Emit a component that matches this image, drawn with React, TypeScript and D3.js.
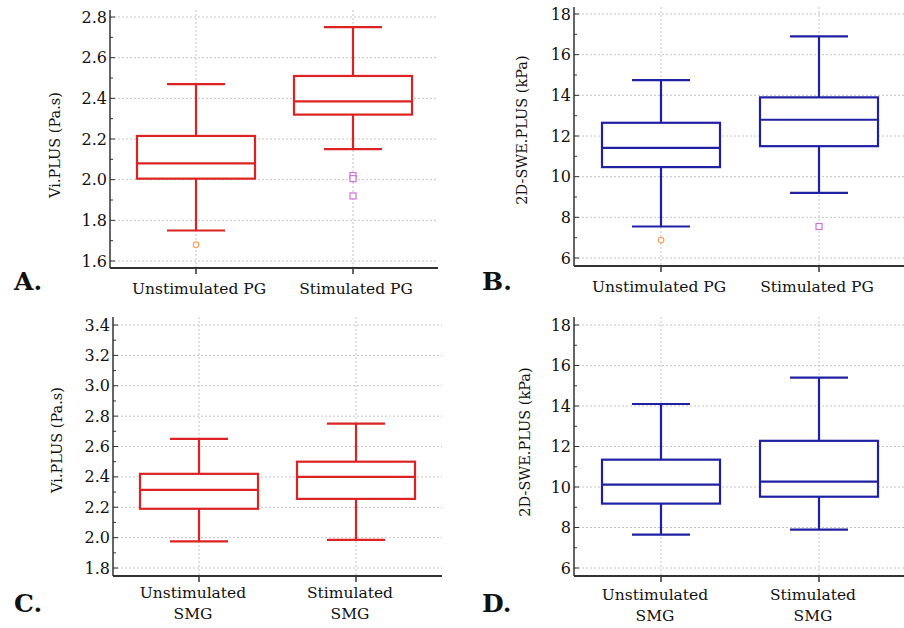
import React from "react";
import * as d3 from "d3";

// ---------- data ----------
const pgCategories = ["Unstimulated PG", "Stimulated PG"];
const smgCategories = ["Unstimulated\nSMG", "Stimulated\nSMG"];

// [lower whisker, Q1, median, Q3, upper whisker]
const viPGUnstim = [1.75, 2.005, 2.08, 2.215, 2.47];
const viPGStim = [2.15, 2.32, 2.385, 2.51, 2.75];
const swePGUnstim = [7.55, 10.47, 11.42, 12.65, 14.75];
const swePGStim = [9.2, 11.5, 12.8, 13.9, 16.9];
const viSMGUnstim = [1.975, 2.19, 2.315, 2.42, 2.65];
const viSMGStim = [1.985, 2.255, 2.4, 2.5, 2.75];
const sweSMGUnstim = [7.65, 9.18, 10.12, 11.35, 14.1];
const sweSMGStim = [7.9, 9.52, 10.27, 12.28, 15.4];

// outliers
const viPGUnstimOut = [1.68];
const viPGStimOut = [2.02, 2.005, 1.92];
const swePGUnstimOut = [6.88];
const swePGStimOut = [7.55];

const viPGTicks = [1.6, 1.8, 2.0, 2.2, 2.4, 2.6, 2.8];
const sweTicks = [6, 8, 10, 12, 14, 16, 18];
const viSMGTicks = [1.8, 2.0, 2.2, 2.4, 2.6, 2.8, 3.0, 3.2, 3.4];

// ---------- styles ----------
const RED = "#dc2222";
const BLUE = "#2020a4";
const GRID = "#c4c4c4";
const AXIS = "#333";
const FONT = "'DejaVu Serif', serif";

type PanelProps = {
  letter: string;
  letterX: number;
  letterY: number;
  axisX: number;
  right: number;
  axisTop: number;
  axisBottom: number;
  tickTopY: number;
  tickBottomY: number;
  ticks: number[];
  decimals: number;
  cats: string[];
  catRange: [number, number];
  boxes: number[][];
  outliers: number[][];
  color: string;
  yLabel: string;
  yLabelX: number;
  yLabelY: number;
  catBaseline: number;
  catShift: number;
};

function Panel(p: PanelProps) {
  const y = d3
    .scaleLinear()
    .domain([p.ticks[0], p.ticks[p.ticks.length - 1]])
    .range([p.tickBottomY, p.tickTopY]);
  const x = d3.scalePoint<string>().domain(p.cats).range(p.catRange).padding(0.5);
  const boxW = 118;
  const capW = 58;
  const minor: number[] = [];
  for (let i = 0; i < p.ticks.length - 1; i++) minor.push((p.ticks[i] + p.ticks[i + 1]) / 2);
  const fmt = d3.format(p.decimals ? `.${p.decimals}f` : "d");
  return (
    <g>
      {/* grid */}
      {p.ticks.map((t) => (
        <line key={"g" + t} x1={p.axisX} x2={p.right} y1={y(t)} y2={y(t)} stroke={GRID} strokeDasharray="2,2" />
      ))}
      {p.cats.map((c) => (
        <line key={"v" + c} x1={x(c)} x2={x(c)} y1={p.axisTop} y2={p.axisBottom} stroke={GRID} strokeDasharray="2,2" />
      ))}
      {/* boxes */}
      {p.boxes.map((b, i) => {
        const cx = x(p.cats[i])!;
        return (
          <g key={"b" + i} stroke={p.color} strokeWidth={2.2} fill="none">
            <line x1={cx} x2={cx} y1={y(b[0])} y2={y(b[1])} />
            <line x1={cx} x2={cx} y1={y(b[3])} y2={y(b[4])} />
            <line x1={cx - capW / 2} x2={cx + capW / 2} y1={y(b[0])} y2={y(b[0])} />
            <line x1={cx - capW / 2} x2={cx + capW / 2} y1={y(b[4])} y2={y(b[4])} />
            <rect x={cx - boxW / 2} y={y(b[3])} width={boxW} height={y(b[1]) - y(b[3])} fill="white" />
            <line x1={cx - boxW / 2} x2={cx + boxW / 2} y1={y(b[2])} y2={y(b[2])} />
          </g>
        );
      })}
      {/* outliers */}
      {p.outliers.map((os, i) => {
        const cx = x(p.cats[i])!;
        return os.map((v, j) =>
          i === 0 ? (
            <circle key={`o${i}${j}`} cx={cx} cy={y(v)} r={2.8} fill="white" stroke="#ffa060" strokeWidth={1.2} />
          ) : (
            <rect key={`o${i}${j}`} x={cx - 3} y={y(v) - 3} width={6} height={6} fill="white" stroke="#d070d8" strokeWidth={1.2} />
          )
        );
      })}
      {/* axes */}
      <line x1={p.axisX} x2={p.axisX} y1={p.axisTop} y2={p.axisBottom} stroke={AXIS} strokeWidth={1.5} />
      <line x1={p.axisX} x2={p.right} y1={p.axisBottom} y2={p.axisBottom} stroke={AXIS} strokeWidth={2} />
      {p.ticks.map((t) => (
        <g key={"t" + t}>
          <line x1={p.axisX} x2={p.axisX + 5} y1={y(t)} y2={y(t)} stroke={AXIS} />
          <text x={p.axisX - 3} y={y(t)} dy="0.35em" textAnchor="end" fontFamily={FONT} fontSize={16} fill="#111">
            {fmt(t)}
          </text>
        </g>
      ))}
      {minor.map((t) => (
        <line key={"m" + t} x1={p.axisX} x2={p.axisX + 3} y1={y(t)} y2={y(t)} stroke={AXIS} />
      ))}
      {p.cats.map((c) => (
        <g key={"c" + c}>
          <line x1={x(c)} x2={x(c)} y1={p.axisBottom} y2={p.axisBottom + 6} stroke={AXIS} strokeWidth={1.5} />
          {c.split("\n").map((ln, k) => (
            <text key={k} x={x(c)! + p.catShift} y={p.catBaseline + k * 21} textAnchor="middle" fontFamily={FONT} fontSize={15.5} fill="#111">
              {ln}
            </text>
          ))}
        </g>
      ))}
      <text
        transform={`translate(${p.yLabelX},${p.yLabelY}) rotate(-90)`}
        textAnchor="middle"
        fontFamily={FONT}
        fontSize={14.5}
        fill="#111"
      >
        {p.yLabel}
      </text>
      <text x={p.letterX} y={p.letterY} fontFamily={FONT} fontWeight="bold" fontSize={25} fill="#111">
        {p.letter}
      </text>
    </g>
  );
}

export default function App() {
  return (
    <svg width={904} height={628} style={{ position: "absolute", left: 0, top: 0, background: "white" }}>
      <rect width={904} height={628} fill="white" />
      <Panel
        letter="A." letterX={14} letterY={290}
        axisX={110} right={438} axisTop={10} axisBottom={268} tickTopY={17} tickBottomY={261}
        ticks={viPGTicks} decimals={1} cats={pgCategories} catRange={[117.5, 431.5]}
        boxes={[viPGUnstim, viPGStim]} outliers={[viPGUnstimOut, viPGStimOut]} color={RED}
        yLabel="Vi.PLUS (Pa.s)" yLabelX={60} yLabelY={145} catBaseline={294} catShift={3}
      />
      <Panel
        letter="B." letterX={482} letterY={290}
        axisX={574} right={904} axisTop={7} axisBottom={266} tickTopY={14} tickBottomY={258}
        ticks={sweTicks} decimals={0} cats={pgCategories} catRange={[582, 898]}
        boxes={[swePGUnstim, swePGStim]} outliers={[swePGUnstimOut, swePGStimOut]} color={BLUE}
        yLabel="2D-SWE.PLUS (kPa)" yLabelX={527} yLabelY={130} catBaseline={292} catShift={-2}
      />
      <Panel
        letter="C." letterX={14} letterY={612}
        axisX={113} right={442} axisTop={317} axisBottom={576} tickTopY={325} tickBottomY={568}
        ticks={viSMGTicks} decimals={1} cats={smgCategories} catRange={[120.5, 434.5]}
        boxes={[viSMGUnstim, viSMGStim]} outliers={[[], []]} color={RED}
        yLabel="Vi.PLUS (Pa.s)" yLabelX={62} yLabelY={440} catBaseline={598} catShift={-6}
      />
      <Panel
        letter="D." letterX={482} letterY={612}
        axisX={574} right={904} axisTop={317} axisBottom={576} tickTopY={325} tickBottomY={568}
        ticks={sweTicks} decimals={0} cats={smgCategories} catRange={[582, 898]}
        boxes={[sweSMGUnstim, sweSMGStim]} outliers={[[], []]} color={BLUE}
        yLabel="2D-SWE.PLUS (kPa)" yLabelX={530} yLabelY={442} catBaseline={600} catShift={-6}
      />
    </svg>
  );
}
